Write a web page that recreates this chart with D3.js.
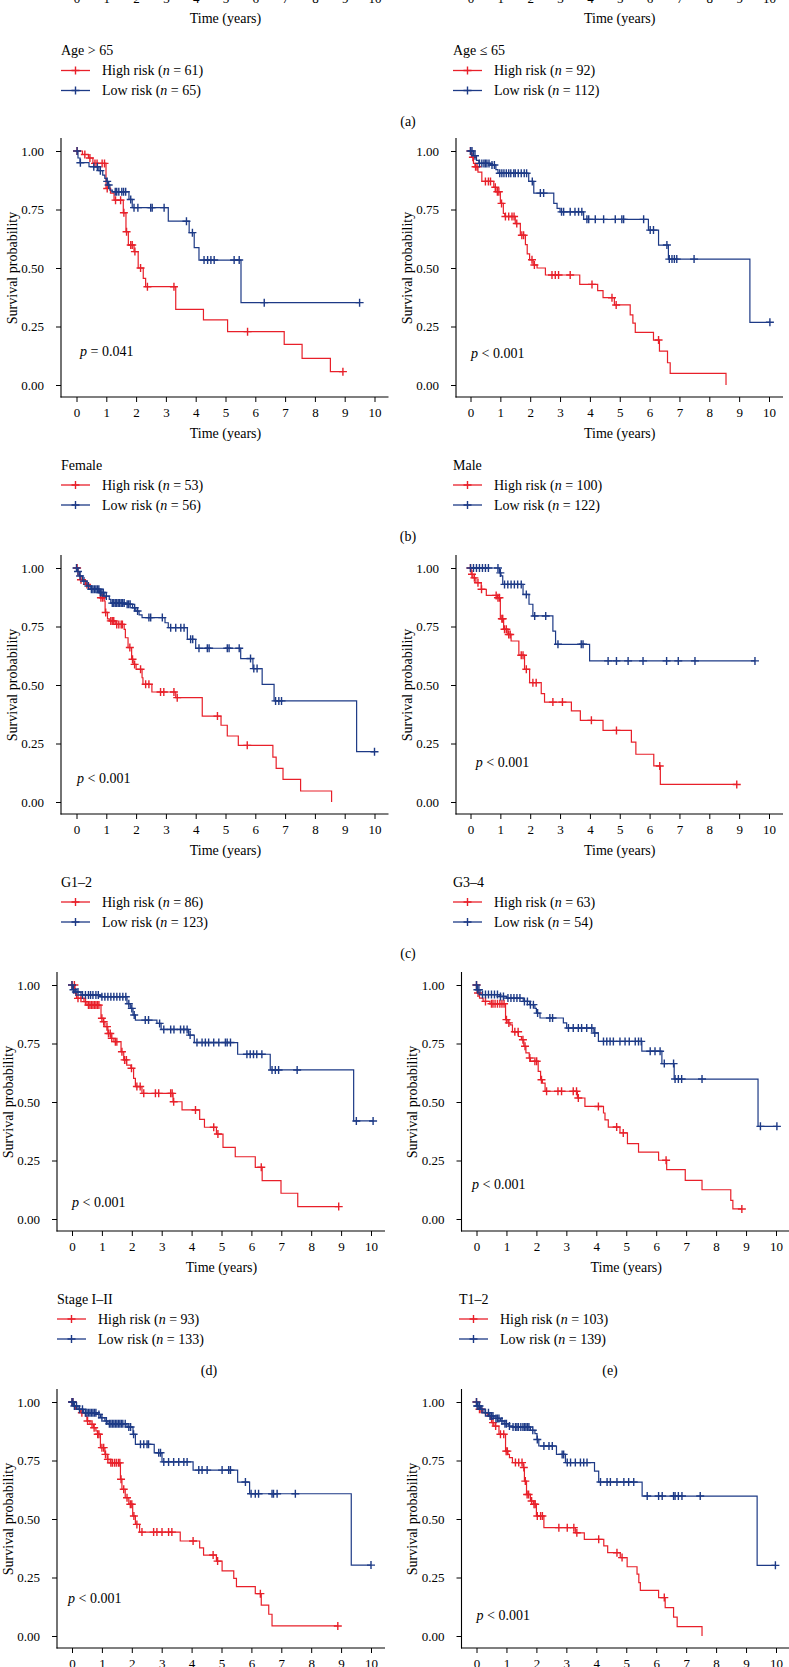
<!DOCTYPE html>
<html><head><meta charset="utf-8">
<script src="https://cdn.jsdelivr.net/npm/d3@7"></script>
<style>
body{margin:0;background:#fff}
svg{display:block}
text{font-family:"Liberation Serif","Times New Roman",serif;fill:#000}
</style>
</head><body>
<svg id="c" width="789" height="1667"></svg>
<script>
// ---------- tick labels ----------
const timeTicks = [0,1,2,3,4,5,6,7,8,9,10];
const survTicks = [0,0.25,0.5,0.75,1];

// ---------- legend texts ----------
const groupTitles = ["Age > 65","Age \u2264 65","Female","Male","G1\u20132","G3\u20134","Stage I\u2013II","T1\u20132","",""];
const highN = [61,92,53,100,86,63,93,103,null,null];
const lowN  = [65,112,56,122,123,54,133,139,null,null];
const pTexts = ["","","= 0.041","< 0.001","< 0.001","< 0.001","< 0.001","< 0.001","< 0.001","< 0.001"];
const captions = ["(a)","(b)","(c)","(d)","(e)"];

// ---------- KM curves: steps [time, survival after drop], censor times, end time ----------
const femaleHighSteps = [[0.2,0.985],[0.4,0.97],[0.55,0.947],[0.99,0.84],[1.14,0.82],[1.26,0.79],[1.57,0.736],[1.66,0.655],[1.74,0.598],[1.93,0.57],[2.07,0.5],[2.24,0.456],[2.32,0.42],[3.33,0.323],[4.26,0.278],[5.07,0.228],[6.97,0.174],[7.57,0.114],[8.52,0.057]];
const femaleHighCensor = [0.02,0.28,0.45,0.62,0.69,0.86,0.94,1.03,1.31,1.48,1.59,1.68,1.82,1.87,1.96,2.15,2.38,3.27,5.74,8.94];
const femaleHighEnd = 8.94;
const femaleLowSteps = [[0.05,0.97],[0.12,0.95],[0.42,0.933],[0.75,0.916],[0.88,0.897],[0.95,0.883],[1.0,0.87],[1.05,0.855],[1.12,0.833],[1.2,0.826],[1.76,0.793],[1.87,0.758],[3.08,0.70],[3.78,0.651],[3.95,0.587],[4.11,0.534],[5.52,0.352]];
const femaleLowCensor = [0.02,0.13,0.58,0.7,0.8,1.03,1.08,1.3,1.35,1.42,1.52,1.58,1.65,1.82,1.93,2.06,2.49,2.54,2.94,3.69,3.89,4.28,4.4,4.51,4.62,5.29,5.46,6.3,9.5];
const femaleLowEnd = 9.5;

const maleHighSteps = [[0.03,0.973],[0.1,0.947],[0.15,0.933],[0.25,0.91],[0.38,0.87],[0.78,0.845],[0.85,0.826],[1.0,0.776],[1.1,0.733],[1.15,0.72],[1.5,0.69],[1.67,0.64],[1.84,0.6],[1.9,0.56],[1.98,0.535],[2.1,0.513],[2.23,0.5],[2.51,0.47],[3.66,0.43],[4.26,0.403],[4.44,0.373],[4.82,0.342],[5.35,0.30],[5.44,0.264],[5.52,0.225],[6.13,0.192],[6.33,0.145],[6.6,0.095],[6.69,0.05],[8.56,0]];
const maleHighCensor = [0.0,0.08,0.17,0.22,0.5,0.6,0.67,0.83,0.9,0.95,1.04,1.17,1.28,1.39,1.46,1.55,1.72,1.78,2.06,2.14,2.73,2.84,2.95,3.34,4.07,4.74,4.88,6.3];
const maleHighEnd = 8.56;
const maleLowSteps = [[0.1,0.98],[0.2,0.96],[0.28,0.947],[0.67,0.94],[0.85,0.92],[0.92,0.905],[1.95,0.87],[2.12,0.82],[2.79,0.776],[2.9,0.755],[3.0,0.74],[3.79,0.708],[5.96,0.662],[6.3,0.598],[6.63,0.538],[9.36,0.268]];
const maleLowCensor = [0.0,0.05,0.15,0.3,0.38,0.45,0.5,0.55,0.62,0.72,0.8,0.98,1.05,1.12,1.2,1.28,1.35,1.45,1.5,1.6,1.7,1.8,1.88,2.07,2.34,2.45,3.05,3.12,3.34,3.5,3.62,3.73,3.9,3.96,4.18,4.46,4.85,5.07,5.13,5.8,6.02,6.13,6.58,6.66,6.75,6.83,6.91,7.49,10.03];
const maleLowEnd = 10.03;

const g12HighSteps = [[0.05,0.97],[0.12,0.95],[0.3,0.93],[0.42,0.909],[0.76,0.895],[0.8,0.873],[0.93,0.859],[0.96,0.81],[1.04,0.783],[1.1,0.774],[1.3,0.759],[1.6,0.738],[1.64,0.702],[1.73,0.66],[1.85,0.61],[1.9,0.588],[2.0,0.567],[2.2,0.531],[2.23,0.503],[2.53,0.47],[3.33,0.446],[4.22,0.367],[4.85,0.328],[5.06,0.282],[5.43,0.242],[6.59,0.192],[6.7,0.144],[6.93,0.097],[7.52,0.047],[8.56,0]];
const g12HighCensor = [0.02,0.15,0.35,0.82,0.88,0.98,1.15,1.2,1.25,1.35,1.42,1.5,1.54,1.79,1.88,1.95,2.15,2.32,2.43,2.82,2.93,3.27,3.38,4.73,5.73];
const g12HighEnd = 8.56;
const g12LowSteps = [[0.03,0.985],[0.1,0.966],[0.2,0.944],[0.35,0.923],[0.48,0.909],[0.76,0.895],[0.93,0.88],[1.1,0.866],[1.15,0.85],[1.65,0.845],[1.88,0.83],[1.99,0.816],[2.1,0.80],[2.2,0.788],[2.97,0.766],[3.08,0.745],[3.72,0.695],[4.0,0.657],[5.51,0.613],[5.92,0.57],[6.23,0.503],[6.63,0.432],[9.4,0.215]];
const g12LowCensor = [0.0,0.05,0.12,0.25,0.4,0.5,0.55,0.6,0.65,0.7,0.75,0.8,0.85,0.9,1.0,1.2,1.25,1.3,1.35,1.4,1.45,1.5,1.55,1.6,1.7,1.75,1.8,1.95,2.05,2.43,2.49,2.88,3.16,3.33,3.5,3.61,3.83,3.9,4.11,4.39,4.45,5.06,5.12,5.46,5.84,5.95,6.06,6.68,6.79,6.88,10.0];
const g12LowEnd = 10.0;

const g34HighSteps = [[0.02,0.973],[0.08,0.958],[0.18,0.937],[0.36,0.909],[0.53,0.883],[0.9,0.873],[1.0,0.783],[1.11,0.738],[1.25,0.716],[1.36,0.688],[1.62,0.627],[1.81,0.567],[1.98,0.51],[2.37,0.463],[2.48,0.427],[3.38,0.389],[3.68,0.349],[4.44,0.306],[5.39,0.256],[5.54,0.204],[6.14,0.154],[6.36,0.075]];
const g34HighCensor = [0.0,0.05,0.13,0.25,0.37,0.86,0.92,0.97,1.05,1.08,1.14,1.2,1.28,1.33,1.7,1.76,1.87,2.09,2.2,2.76,3.08,4.05,4.89,6.34,8.92];
const g34HighEnd = 8.92;
const g34LowSteps = [[0.97,0.979],[1.02,0.966],[1.08,0.93],[1.76,0.887],[1.96,0.845],[2.09,0.795],[2.76,0.73],[2.85,0.674],[3.99,0.603]];
const g34LowCensor = [0.0,0.1,0.2,0.3,0.4,0.5,0.6,0.92,1.0,1.14,1.25,1.36,1.47,1.58,1.7,1.87,2.15,2.52,2.93,3.71,3.77,4.61,4.89,5.28,5.78,6.57,6.96,7.52,9.53];
const g34LowEnd = 9.53;

const stageHighSteps = [[0.1,0.964],[0.15,0.943],[0.4,0.929],[0.5,0.914],[0.97,0.858],[1.05,0.843],[1.1,0.822],[1.2,0.793],[1.3,0.772],[1.4,0.758],[1.64,0.715],[1.73,0.68],[1.83,0.658],[1.97,0.644],[2.06,0.601],[2.12,0.566],[2.34,0.537],[3.38,0.501],[3.68,0.466],[4.27,0.426],[4.43,0.392],[4.83,0.363],[5.05,0.306],[5.46,0.266],[6.13,0.221],[6.36,0.164],[6.99,0.11],[7.55,0.053]];
const stageHighCensor = [0.0,0.08,0.2,0.3,0.45,0.55,0.6,0.65,0.7,0.75,0.8,0.85,0.9,1.0,1.06,1.17,1.22,1.28,1.33,1.45,1.5,1.67,1.76,1.82,1.99,2.17,2.28,2.4,2.79,2.9,3.3,3.35,3.4,4.13,4.74,4.88,6.33,8.92];
const stageHighEnd = 8.92;
const stageLowSteps = [[0.03,0.98],[0.1,0.97],[0.3,0.957],[0.95,0.95],[1.84,0.92],[1.95,0.9],[2.04,0.872],[2.12,0.85],[2.84,0.836],[2.98,0.81],[3.9,0.786],[4.09,0.754],[5.54,0.704],[6.63,0.637],[9.42,0.419]];
const stageLowCensor = [0.0,0.05,0.13,0.2,0.35,0.45,0.55,0.62,0.7,0.8,0.88,1.0,1.1,1.2,1.3,1.4,1.5,1.6,1.7,1.8,1.9,2.0,2.08,2.45,2.56,2.93,3.07,3.3,3.41,3.63,3.74,3.85,3.95,4.18,4.35,4.46,4.57,4.74,4.91,5.13,5.19,5.3,5.85,5.96,6.07,6.18,6.35,6.69,6.8,6.91,7.53,9.51,10.07];
const stageLowEnd = 10.07;

const t12HighSteps = [[0.02,0.966],[0.1,0.944],[0.22,0.93],[0.45,0.92],[0.97,0.852],[1.05,0.838],[1.12,0.83],[1.2,0.80],[1.4,0.78],[1.5,0.766],[1.58,0.738],[1.65,0.71],[1.76,0.688],[1.8,0.674],[2.06,0.631],[2.14,0.595],[2.2,0.581],[2.29,0.546],[3.37,0.517],[3.62,0.481],[4.24,0.453],[4.29,0.424],[4.4,0.393],[4.79,0.368],[5.04,0.322],[5.41,0.286],[6.08,0.251],[6.35,0.211],[6.97,0.165],[7.53,0.125],[8.49,0.08],[8.56,0.043]];
const t12HighCensor = [0.0,0.05,0.3,0.5,0.55,0.62,0.7,0.78,0.85,0.92,1.0,1.08,1.28,1.39,1.55,1.62,1.78,1.95,2.01,2.17,2.34,2.72,2.84,3.23,3.34,3.4,4.07,4.68,4.9,6.33,8.86];
const t12HighEnd = 8.86;
const t12LowSteps = [[0.03,0.98],[0.12,0.959],[0.78,0.951],[1.0,0.944],[1.56,0.93],[1.78,0.916],[1.95,0.9],[2.0,0.88],[2.12,0.859],[2.9,0.838],[3.01,0.816],[3.92,0.795],[4.07,0.759],[5.52,0.717],[6.19,0.664],[6.6,0.598],[9.4,0.396]];
const t12LowCensor = [0.0,0.03,0.08,0.2,0.3,0.4,0.5,0.6,0.7,0.8,0.9,1.05,1.15,1.25,1.35,1.45,1.6,1.7,1.8,1.9,2.04,2.45,2.54,3.07,3.23,3.4,3.51,3.68,3.85,3.95,4.24,4.35,4.46,4.57,4.79,4.96,5.1,5.3,5.41,5.5,5.8,5.96,6.13,6.27,6.58,6.63,6.74,6.85,7.53,9.48,10.03];
const t12LowEnd = 10.03;

const fHighSteps = [[0.05,0.983],[0.12,0.969],[0.28,0.954],[0.45,0.94],[0.5,0.919],[0.6,0.905],[0.72,0.89],[0.8,0.876],[0.85,0.862],[0.95,0.805],[1.1,0.776],[1.18,0.755],[1.28,0.74],[1.62,0.67],[1.67,0.627],[1.78,0.591],[1.9,0.563],[2.03,0.513],[2.12,0.477],[2.26,0.444],[3.62,0.406],[4.27,0.377],[4.4,0.346],[4.83,0.32],[5.02,0.278],[5.41,0.246],[5.5,0.211],[6.13,0.181],[6.33,0.132],[6.58,0.093],[6.69,0.043]];
const fHighCensor = [0.0,0.03,0.33,0.52,0.67,0.74,0.86,0.9,1.0,1.06,1.12,1.2,1.3,1.35,1.42,1.48,1.55,1.6,1.64,1.73,1.84,1.95,2.0,2.07,2.17,2.34,2.73,2.84,3.01,3.23,3.34,4.05,4.72,4.87,6.3,8.89];
const fHighEnd = 8.89;
const fLowSteps = [[0.05,0.983],[0.2,0.969],[0.39,0.954],[0.84,0.947],[0.95,0.933],[1.1,0.919],[1.2,0.907],[1.84,0.893],[2.04,0.862],[2.12,0.819],[2.75,0.783],[3.01,0.744],[4.05,0.709],[5.54,0.658],[5.94,0.608],[9.34,0.303]];
const fLowCensor = [0.0,0.03,0.08,0.15,0.25,0.35,0.45,0.5,0.55,0.6,0.65,0.7,0.75,0.8,0.9,1.0,1.15,1.25,1.3,1.35,1.4,1.45,1.5,1.55,1.6,1.65,1.7,1.78,1.9,1.96,2.06,2.29,2.4,2.51,2.56,2.9,2.96,3.07,3.23,3.4,3.57,3.74,3.85,4.24,4.35,4.52,5.02,5.24,5.3,5.8,5.99,6.13,6.24,6.69,6.74,6.86,7.47,10.0];
const fLowEnd = 10.0;

const gHighSteps = [[0.03,0.983],[0.08,0.969],[0.2,0.954],[0.36,0.94],[0.47,0.926],[0.5,0.912],[0.58,0.897],[0.75,0.862],[0.97,0.79],[1.05,0.776],[1.1,0.762],[1.2,0.741],[1.56,0.72],[1.6,0.662],[1.67,0.605],[1.8,0.577],[1.9,0.563],[2.0,0.513],[2.25,0.463],[3.3,0.441],[3.6,0.413],[4.25,0.385],[4.38,0.356],[4.8,0.335],[5.03,0.296],[5.36,0.264],[5.42,0.228],[5.47,0.195],[6.08,0.164],[6.3,0.121],[6.58,0.081],[6.7,0.04],[7.53,0]];
const gHighCensor = [0.0,0.1,0.15,0.55,0.64,0.8,0.91,0.99,1.03,1.3,1.41,1.52,1.58,1.63,1.69,1.74,1.84,1.92,1.96,2.03,2.14,2.2,2.75,3.03,3.25,3.35,4.08,4.69,4.86,6.27];
const gHighEnd = 7.53;
const gLowSteps = [[0.02,0.983],[0.13,0.969],[0.25,0.954],[0.42,0.94],[0.58,0.93],[0.8,0.919],[0.92,0.907],[1.08,0.897],[1.2,0.893],[1.8,0.879],[1.95,0.865],[2.02,0.84],[2.08,0.812],[2.67,0.776],[2.97,0.741],[3.94,0.705],[4.08,0.658],[5.53,0.598],[9.37,0.302]];
const gLowCensor = [0.0,0.02,0.05,0.1,0.18,0.3,0.4,0.45,0.5,0.55,0.65,0.7,0.75,0.85,0.95,1.0,1.1,1.22,1.3,1.35,1.4,1.48,1.55,1.6,1.65,1.7,1.75,1.88,2.03,2.25,2.42,2.53,2.86,2.91,3.03,3.14,3.3,3.47,3.58,3.69,4.14,4.36,4.47,4.69,4.92,5.08,5.25,5.7,6.08,6.2,6.58,6.63,6.74,6.86,7.47,9.98];
const gLowEnd = 9.98;

// ---------- layout ----------
const RED = "#e8202a", BLUE = "#1d3a86";
const FS = 14, TFS = 13;
const rowY0 = [-263.5, 151, 568, 985, 1402];
const geomTop = {L:{axisX:61, x0:76.5, x10:374.5, legX:61}, R:{axisX:456, x0:470.5, x10:769, legX:453}};
const geomBot = {L:{axisX:57, x0:72, x10:371, legX:57}, R:{axisX:461.5, x0:476.5, x10:776, legX:459}};
const pPos = [[0,0],[0,0],[0.12,0.145],[0.02,0.137],[0.02,0.103],[0.18,0.171],[0.0,0.073],[-0.15,0.15],[-0.13,0.162],[0.0,0.09]];

const curves = [
  null, null,
  {high:[femaleHighSteps,femaleHighCensor,femaleHighEnd], low:[femaleLowSteps,femaleLowCensor,femaleLowEnd]},
  {high:[maleHighSteps,maleHighCensor,maleHighEnd], low:[maleLowSteps,maleLowCensor,maleLowEnd]},
  {high:[g12HighSteps,g12HighCensor,g12HighEnd], low:[g12LowSteps,g12LowCensor,g12LowEnd]},
  {high:[g34HighSteps,g34HighCensor,g34HighEnd], low:[g34LowSteps,g34LowCensor,g34LowEnd]},
  {high:[stageHighSteps,stageHighCensor,stageHighEnd], low:[stageLowSteps,stageLowCensor,stageLowEnd]},
  {high:[t12HighSteps,t12HighCensor,t12HighEnd], low:[t12LowSteps,t12LowCensor,t12LowEnd]},
  {high:[fHighSteps,fHighCensor,fHighEnd], low:[fLowSteps,fLowCensor,fLowEnd]},
  {high:[gHighSteps,gHighCensor,gHighEnd], low:[gLowSteps,gLowCensor,gLowEnd]}
];

const svg = d3.select("#c");
const crossPath = "M-4,0H4M0,-4V4";

function survAt(steps, t){ let s = 1; for (const [tt, ss] of steps){ if (tt <= t) s = ss; else break; } return s; }

function drawCurve(g, x, y, data, color){
  const [steps, censor, end] = data;
  const pts = [[0,1], ...steps, [end, steps.length ? steps[steps.length-1][1] : 1]];
  const line = d3.line().x(d => x(d[0])).y(d => y(d[1])).curve(d3.curveStepAfter);
  g.append("path").attr("d", line(pts)).attr("fill","none").attr("stroke",color).attr("stroke-width",1.2);
  g.selectAll(null).data(censor).enter().append("path")
    .attr("d", crossPath)
    .attr("transform", t => `translate(${x(t)},${y(survAt(steps,t))})`)
    .attr("stroke", color).attr("stroke-width", 1.4).attr("fill","none");
}

function styleAxis(sel){
  sel.attr("font-family", null).attr("font-size", null);
  sel.selectAll("text").attr("font-size", TFS).style("fill","#000");
  sel.selectAll("line").attr("stroke","#000");
  sel.select(".domain").remove();
}

for (let i = 0; i < 10; i++){
  const row = Math.floor(i/2), side = i % 2 ? "R" : "L";
  const geo = (row >= 3 ? geomBot : geomTop)[side];
  const Y0 = rowY0[row];
  const x = d3.scaleLinear().domain([0,10]).range([geo.x0, geo.x10]);
  const y = d3.scaleLinear().domain([0,1]).range([Y0 + 234, Y0]);
  const g = svg.append("g");

  // axis lines
  g.append("line").attr("x1",geo.axisX).attr("x2",geo.axisX).attr("y1",Y0-13).attr("y2",Y0+246.5).attr("stroke","#000").attr("stroke-width",1.1);
  g.append("line").attr("x1",geo.axisX-0.5).attr("x2",geo.x10+14).attr("y1",Y0+246).attr("y2",Y0+246).attr("stroke","#000").attr("stroke-width",1.1);

  const ya = g.append("g").attr("transform",`translate(${geo.axisX},0)`)
    .call(d3.axisLeft(y).tickValues(survTicks).tickFormat(d3.format(".2f")).tickSize(5).tickPadding(12));
  styleAxis(ya);
  const xa = g.append("g").attr("transform",`translate(0,${Y0+246})`)
    .call(d3.axisBottom(x).tickValues(timeTicks).tickFormat(d3.format("d")).tickSize(5).tickPadding(6));
  styleAxis(xa);

  g.append("text").attr("transform",`translate(${geo.axisX-49},${Y0+117}) rotate(-90)`)
    .attr("text-anchor","middle").attr("dy","0.35em").attr("font-size",FS).text("Survival probability");
  g.append("text").attr("x",(geo.x0+geo.x10)/2).attr("y",Y0+282).attr("dy","0.35em")
    .attr("text-anchor","middle").attr("font-size",FS).text("Time (years)");

  const cv = curves[i];
  if (cv){
    drawCurve(g, x, y, cv.high, RED);
    drawCurve(g, x, y, cv.low, BLUE);
  }
  if (pTexts[i]){
    const pt = g.append("text").attr("x", x(pPos[i][0])).attr("y", y(pPos[i][1])).attr("dy","0.35em").attr("font-size",FS);
    pt.append("tspan").attr("font-style","italic").text("p");
    pt.append("tspan").text(" " + pTexts[i]);
  }

  // legend
  if (highN[i] !== null){
    const lx = geo.legX;
    g.append("text").attr("x",lx).attr("y",Y0+314).attr("dy","0.35em").attr("font-size",FS).text(groupTitles[i]);
    [[highN[i], RED, "High risk"], [lowN[i], BLUE, "Low risk"]].forEach(([n, col, lab], k) => {
      const ly = Y0 + 334 + k*20;
      g.append("line").attr("x1",lx).attr("x2",lx+29).attr("y1",ly).attr("y2",ly).attr("stroke",col).attr("stroke-width",1.3);
      g.append("path").attr("d",crossPath).attr("transform",`translate(${lx+14.5},${ly})`).attr("stroke",col).attr("stroke-width",1.4);
      const t = g.append("text").attr("x",lx+41).attr("y",ly).attr("dy","0.35em").attr("font-size",FS);
      t.append("tspan").text(lab + " (");
      t.append("tspan").attr("font-style","italic").text("n");
      t.append("tspan").text(" = " + n + ")");
    });
  }
}

// captions
const capPos = [[408, rowY0[0]+385],[408, rowY0[1]+385],[408, rowY0[2]+385],[209, rowY0[3]+385],[610, rowY0[3]+385]];
captions.forEach((c, k) => {
  svg.append("text").attr("x",capPos[k][0]).attr("y",capPos[k][1]).attr("dy","0.35em")
    .attr("text-anchor","middle").attr("font-size",FS).text(c);
});
</script>
</body></html>
